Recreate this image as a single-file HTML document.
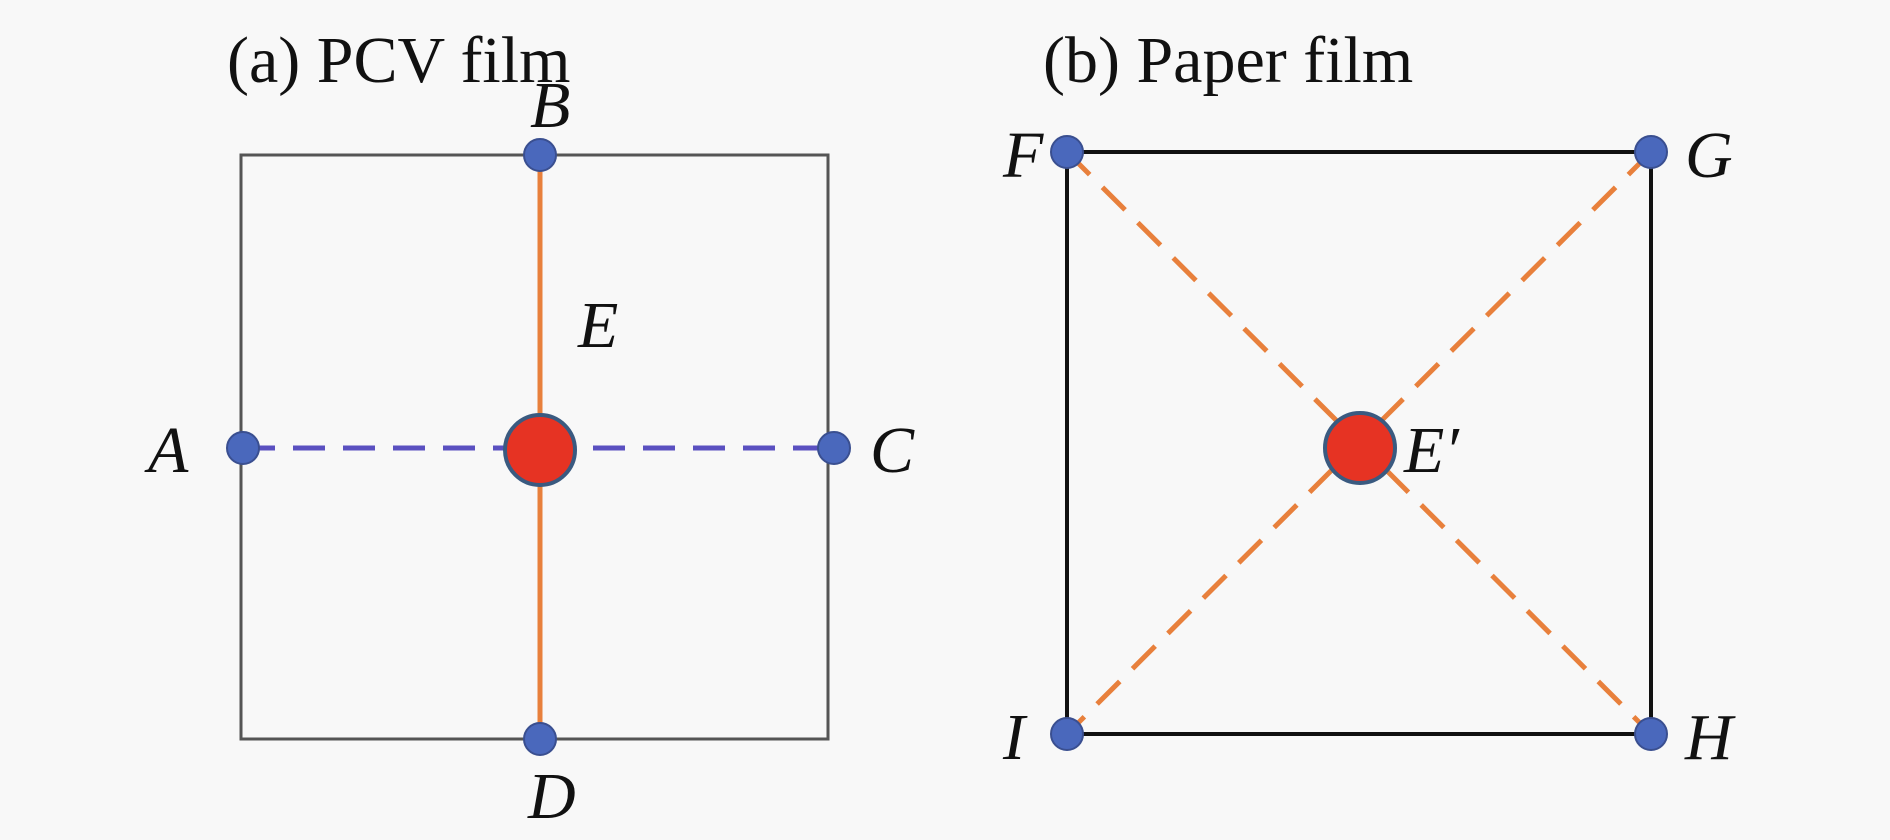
<!DOCTYPE html>
<html><head><style>body{margin:0;background:#f8f8f8}svg{display:block}</style></head><body>
<svg width="1890" height="840" xmlns="http://www.w3.org/2000/svg" font-family="Liberation Serif, serif" font-size="66" fill="#111">
<rect width="1890" height="840" fill="#f8f8f8"/>
<text x="227" y="82">(a) PCV film</text>
<text x="1043" y="82">(b) Paper film</text>
<rect x="241" y="155" width="587" height="584" fill="none" stroke="#555" stroke-width="3"/>
<line x1="540" y1="155" x2="540" y2="739" stroke="#e8803c" stroke-width="5"/>
<line x1="243" y1="448" x2="834" y2="448" stroke="#5a50c0" stroke-width="5" stroke-dasharray="32,18"/>
<g fill="#4a68bc" stroke="#3a4f90" stroke-width="2">
<circle cx="540" cy="155" r="16"/><circle cx="243" cy="448" r="16"/><circle cx="834" cy="448" r="16"/><circle cx="540" cy="739" r="16"/>
</g>
<circle cx="540" cy="450" r="35" fill="#e63323" stroke="#3a5a80" stroke-width="4"/>
<g font-style="italic">
<text x="530" y="127">B</text>
<text x="148" y="472">A</text>
<text x="870" y="472">C</text>
<text x="528" y="818">D</text>
<text x="578" y="347">E</text>
</g>
<rect x="1067" y="152" width="584" height="582" fill="none" stroke="#111" stroke-width="4"/>
<line x1="1067" y1="152" x2="1651" y2="734" stroke="#e8803c" stroke-width="5" stroke-dasharray="32,18"/>
<line x1="1651" y1="152" x2="1067" y2="734" stroke="#e8803c" stroke-width="5" stroke-dasharray="32,18"/>
<g fill="#4a68bc" stroke="#3a4f90" stroke-width="2">
<circle cx="1067" cy="152" r="16"/><circle cx="1651" cy="152" r="16"/><circle cx="1067" cy="734" r="16"/><circle cx="1651" cy="734" r="16"/>
</g>
<circle cx="1360" cy="448" r="35" fill="#e63323" stroke="#3a5a80" stroke-width="4"/>
<g font-style="italic">
<text x="1003" y="177">F</text>
<text x="1685" y="177">G</text>
<text x="1404" y="472">E′</text>
<text x="1003" y="759">I</text>
<text x="1685" y="759">H</text>
</g>
</svg>
</body></html>
